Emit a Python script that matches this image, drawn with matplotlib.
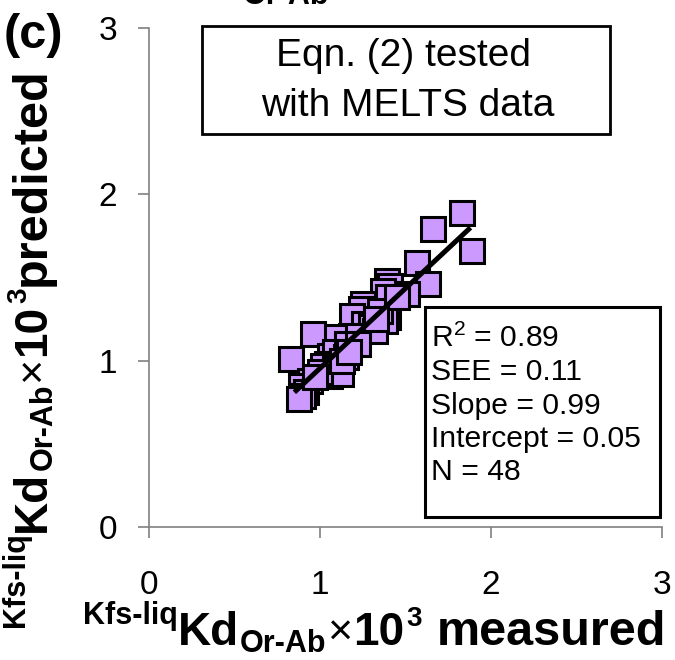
import matplotlib
matplotlib.use('Agg')
import matplotlib.pyplot as plt
from matplotlib.transforms import IdentityTransform
from matplotlib.patches import Rectangle

# ---------------- data ----------------
measured = [1.83, 1.66, 1.89, 1.57, 1.63, 1.39, 1.41, 1.37, 1.40, 1.51,
            1.25, 1.28, 1.24, 1.40, 1.38, 1.19, 1.26, 1.30, 1.32, 1.35,
            1.21, 1.18, 1.14, 1.08, 0.96, 1.06, 1.09, 1.11, 1.04, 1.02,
            1.09, 1.06, 1.12, 0.83, 0.94, 0.89, 0.92, 0.90, 0.88, 1.16,
            1.15, 1.00, 1.13, 1.22, 0.97, 1.45, 1.33, 1.17]
predicted = [1.89, 1.79, 1.66, 1.59, 1.46, 1.48, 1.45, 1.42, 1.38, 1.40,
             1.34, 1.29, 1.31, 1.26, 1.24, 1.27, 1.22, 1.20, 1.18, 1.30,
             1.13, 1.15, 1.08, 1.14, 1.16, 1.03, 1.05, 0.98, 0.98, 0.97,
             0.95, 0.91, 0.92, 1.01, 0.88, 0.85, 0.81, 0.79, 0.77, 1.10,
             1.02, 0.93, 1.00, 1.10, 0.90, 1.38, 1.25, 1.05]
fit_x = [0.85, 1.88]
fit_y = [0.81, 1.80]
ticks = [0, 1, 2, 3]
tick_labels = ['0', '1', '2', '3']
stats_lines = [r'R$^2$ = 0.89', 'SEE = 0.11', 'Slope = 0.99',
               'Intercept = 0.05', 'N = 48']
box_lines = ['Eqn. (2) tested', 'with MELTS data']
panel_label = '(c)'

plt.rcParams['font.family'] = ['Liberation Sans', 'DejaVu Sans']
plt.rcParams['mathtext.fontset'] = 'custom'
plt.rcParams['mathtext.rm'] = 'Liberation Sans'
plt.rcParams['mathtext.it'] = 'Liberation Sans:italic'
plt.rcParams['mathtext.bf'] = 'Liberation Sans:bold'

W, H = 675, 660
fig = plt.figure(figsize=(W / 100, H / 100), dpi=100)
ax = fig.add_axes([149 / W, 1 - 527 / H, 513 / W, 499 / H])
ax.set_xlim(0, 3)
ax.set_ylim(0, 3)

ax.plot(measured, predicted, 's', ms=17.5, mfc='#CC99FF', mec='black',
        mew=2.2, zorder=3, clip_on=False, linestyle='none')
ax.plot(fit_x, fit_y, '-', color='black', lw=3.6, zorder=4,
        solid_capstyle='butt')

for s in ['top', 'right']:
    ax.spines[s].set_visible(False)
for s in ['left', 'bottom']:
    ax.spines[s].set_color('#808080')
    ax.spines[s].set_linewidth(1.2)
ax.set_xticks(ticks)
ax.set_xticklabels(tick_labels)
ax.set_yticks(ticks)
ax.set_yticklabels(tick_labels)
ax.tick_params(direction='out', length=8, width=1.2, color='#808080',
               labelsize=24)
ax.tick_params(axis='x', pad=23)
ax.tick_params(axis='y', pad=15)

ID = IdentityTransform()

def P(x, y):
    return x, H - y

# panel label
fig.text(*P(33, 48), panel_label, transform=ID, ha='center', va='baseline',
         fontsize=35, fontweight='bold')

# partial title of panel above (clipped at the top edge, as in the reference)
fig.text(*P(243, 4), 'Or-Ab', transform=ID, ha='left', va='baseline',
         fontsize=22, fontweight='bold')

# upper box
fig.add_artist(Rectangle(P(202, 134), 408, 108, transform=ID,
                         facecolor='white', edgecolor='black', lw=2.0,
                         zorder=5))
fig.text(*P(404, 66), box_lines[0], transform=ID, ha='center',
         va='baseline', fontsize=28, zorder=6)
fig.text(*P(408, 116), box_lines[1], transform=ID, ha='center',
         va='baseline', fontsize=28, zorder=6)

# stats box
fig.add_artist(Rectangle(P(425, 517), 235, 210, transform=ID,
                         facecolor='white', edgecolor='black', lw=2.2,
                         zorder=5))
for i, line in enumerate(stats_lines):
    fig.text(*P(431, 347 + 33.3 * i), line, transform=ID, ha='left',
             va='baseline', fontsize=21.7, zorder=6)

# composite axis labels
renderer = fig.canvas.get_renderer()

def label_pieces(word, word_gap):
    return [('Kfs-liq', 22, 'bold', 21, 0),
            ('Kd', 33, 'bold', 0, 0),
            ('Or-Ab', 22, 'bold', -7, 1),
            ('\u00d7', 31, 'normal', 0, 1),
            ('10', 33, 'bold', 0, 1),
            ('3', 20, 'bold', 19, 2),
            (word, 35, 'bold', 0, word_gap)]

def compose_h(pieces, start_x, base_y):
    pos = start_x
    for s, size, weight, shift, gap in pieces:
        pos += gap
        t = fig.text(pos, H - base_y + shift, s, transform=ID, ha='left',
                     va='baseline', fontsize=size, fontweight=weight)
        pos += t.get_window_extent(renderer).width

def compose_v(pieces, start_y, base_x):
    pos = H - start_y
    for s, size, weight, shift, gap in pieces:
        pos += gap
        t = fig.text(base_x - shift, pos, s, transform=ID, ha='left',
                     va='baseline', fontsize=size, fontweight=weight,
                     rotation=90, rotation_mode='anchor')
        pos += t.get_window_extent(renderer).height

compose_h(label_pieces('measured', 14), 83, 645)
compose_v(label_pieces('predicted', 2), 627, 45)

fig.savefig('out.png', dpi=100)
